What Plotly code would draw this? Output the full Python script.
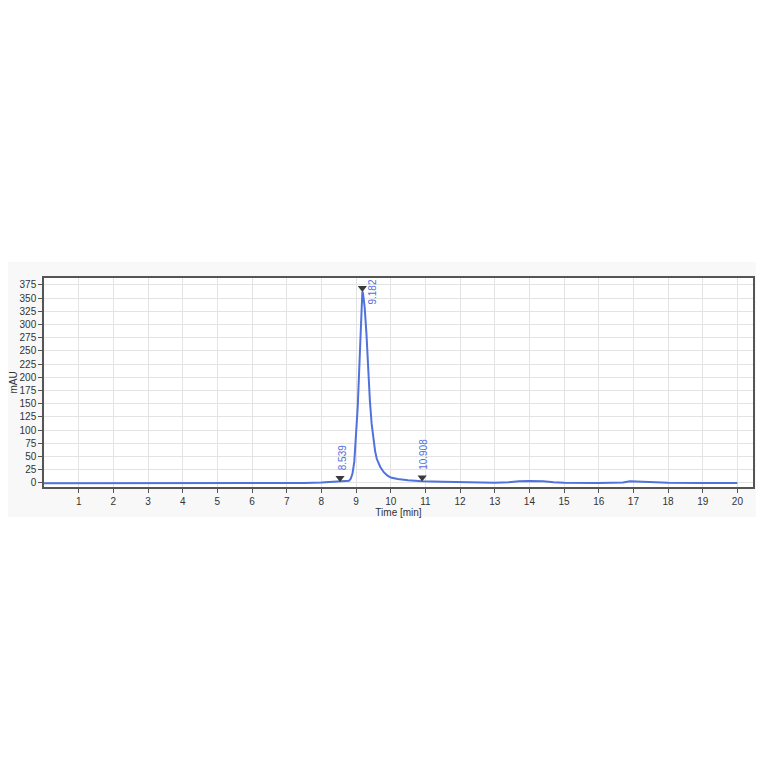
import numpy as np
import plotly.graph_objects as go

# chromatogram
time_min = [0, 1, 2, 3, 4, 5, 6, 7, 7.5, 8.0, 8.3, 8.539, 8.7, 8.8, 8.85, 8.9, 8.95,
            9.0, 9.05, 9.1, 9.15, 9.17, 9.182, 9.2, 9.22, 9.25, 9.3, 9.35, 9.4, 9.45,
            9.5, 9.55, 9.6, 9.7, 9.8, 9.9, 10.0, 10.2, 10.5, 10.908, 11.5, 12, 12.5,
            13, 13.4, 13.7, 14.0, 14.4, 14.7, 15, 16, 16.7, 16.9, 17.1, 17.4, 18, 19, 20]
mau = [-1, -1, -1, -1, -1, -1, -1, -1, -0.5, 0.5, 1.5, 2, 2.5, 4, 8, 18, 40,
       85, 145, 228, 328, 355, 362, 360, 352, 332, 283, 214, 155, 112,
       80, 60, 45, 30, 20, 14, 10, 7, 5, 3, 2, 1, 0.5,
       0, 1, 3, 3.5, 3, 1, 0, -0.5, 0.5, 3, 2.5, 0.5, 0, -0.5, -0.5]

peak_times = [8.539, 9.182, 10.908]
peak_labels = ["8.539", "9.182", "10.908"]

x_ticks = list(range(1, 21))
y_ticks = list(range(0, 376, 25))

blue = "#4f72dc"
dark = "#3a3a3a"
txt = "#333333"

fig = go.Figure()
fig.add_trace(go.Scatter(x=time_min, y=mau, mode="lines",
                         line=dict(color=blue, width=2), showlegend=False))

peak_y = np.interp(peak_times, time_min, mau)
# triangles sit just above the trace
fig.add_trace(go.Scatter(x=peak_times, y=peak_y + 7, mode="markers",
                         marker=dict(symbol="triangle-down", size=8, color=dark,
                                     line=dict(width=0)),
                         showlegend=False))

for t, yv, lab in zip(peak_times, peak_y, peak_labels):
    if yv > 300:
        fig.add_annotation(x=t, y=yv, text=lab, showarrow=False, textangle=-90,
                           xanchor="left", yanchor="middle", xshift=3,
                           font=dict(size=10, color=blue, family="Liberation Sans"))
    else:
        fig.add_annotation(x=t, y=yv, text=lab, showarrow=False, textangle=-90,
                           xanchor="center", yanchor="bottom", yshift=9, xshift=2,
                           font=dict(size=10, color=blue, family="Liberation Sans"))

# faint panel around the chart
panel = "#f8f8f8"
for x0, x1, y0, y1 in [(-0.058, 0, -0.144, 1.077), (1, 1.006, -0.144, 1.077),
                       (0, 1, 1, 1.077), (0, 1, -0.144, 0)]:
    fig.add_shape(type="rect", xref="paper", yref="paper", x0=x0, x1=x1, y0=y0, y1=y1,
                  fillcolor=panel, line=dict(width=0), layer="below")

axis_common = dict(showline=True, linecolor="#555555", linewidth=1.5, mirror=True,
                   showgrid=True, gridcolor="#e3e3e3", gridwidth=1,
                   ticks="outside", ticklen=4, tickcolor="#555555", zeroline=False,
                   automargin=False,
                   tickfont=dict(size=10, color=txt, family="Liberation Sans"))

fig.update_xaxes(range=[0, 20.45], tickvals=x_ticks,
                 title=dict(text="Time [min]", standoff=2,
                            font=dict(size=10, color=txt, family="Liberation Sans")),
                 **axis_common)
fig.update_yaxes(range=[-8, 388], tickvals=y_ticks,
                 title=dict(text="mAU", standoff=4,
                            font=dict(size=10, color=txt, family="Liberation Sans")),
                 **axis_common)

# page body adds 8px on left/top, margins compensate
fig.update_layout(width=764, height=764,
                  margin=dict(l=36, r=19, t=270, b=285),
                  paper_bgcolor="white", plot_bgcolor="white",
                  font=dict(family="Liberation Sans"))

fig.write_html("out.html")
